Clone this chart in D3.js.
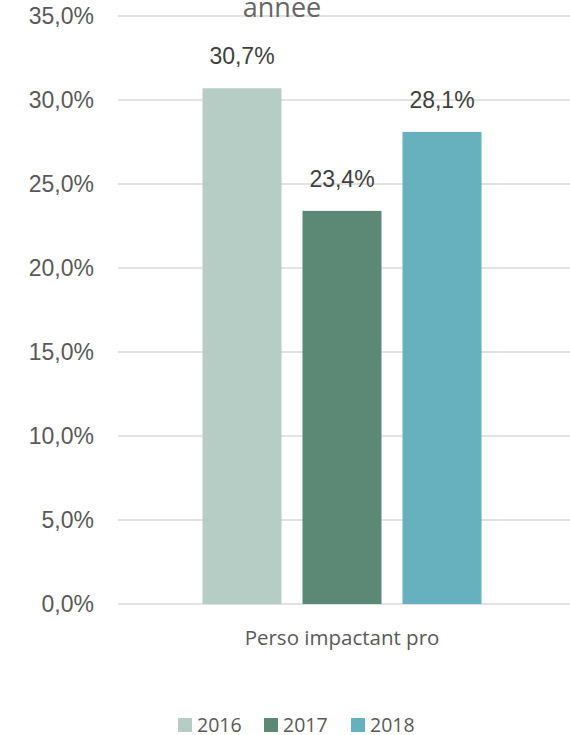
<!DOCTYPE html>
<html>
<head>
<meta charset="utf-8">
<script src="https://cdn.jsdelivr.net/npm/d3@7"></script>
<style>
  body { margin: 0; background: #fff; }
  svg { display: block; }
</style>
</head>
<body>
<svg width="570" height="735"></svg>
<script>
// Data
const categories = ['Perso impactant pro'];
const years = ['2016', '2017', '2018'];
const values = [30.7, 23.4, 28.1];
const colors = ['#b6cdc5', '#5c8976', '#67b0bd'];
const yTicks = [0, 5, 10, 15, 20, 25, 30, 35];

const svg = d3.select('svg');
const fmt = v => d3.format('.1f')(v).replace('.', ',') + '%';

// Plot area (names avoid window.top clash)
const plotLeft = 118, plotRight = 570, plotTop = 16, plotBottom = 604;

const y = d3.scaleLinear().domain([0, 35]).range([plotBottom, plotTop]);

// One category band, then bars per year inside it
const x0 = d3.scaleBand().domain(categories).range([192, 492]);
const x1 = d3.scaleBand().domain(years).range([0, x0.bandwidth()])
    .paddingInner(0.21).paddingOuter(0.105);

// Gridlines
svg.append('g').selectAll('line').data(yTicks).join('line')
    .attr('x1', plotLeft).attr('x2', plotRight)
    .attr('y1', d => y(d)).attr('y2', d => y(d))
    .style('stroke', '#d9d9d9').style('stroke-width', 1.3);

// Tick labels
svg.append('g').selectAll('text').data(yTicks).join('text')
    .attr('x', 94).attr('y', d => y(d) + 8)
    .attr('text-anchor', 'end')
    .style('font-family', 'Liberation Sans, Arial, sans-serif')
    .style('font-size', '23px')
    .style('fill', '#595959')
    .text(d => fmt(d));

// Bars
const group = svg.append('g').attr('transform', `translate(${x0(categories[0])},0)`);
group.selectAll('rect').data(values).join('rect')
    .attr('x', (d, i) => x1(years[i]))
    .attr('width', x1.bandwidth())
    .attr('y', d => y(d))
    .attr('height', d => y(0) - y(d))
    .style('fill', (d, i) => colors[i]);

// Value labels
group.selectAll('text').data(values).join('text')
    .attr('x', (d, i) => x1(years[i]) + x1.bandwidth() / 2)
    .attr('y', d => y(d) - 24)
    .attr('text-anchor', 'middle')
    .style('font-family', 'Liberation Sans, Arial, sans-serif')
    .style('font-size', '23px')
    .style('fill', '#404040')
    .text(d => fmt(d));

// Category label
svg.append('text')
    .attr('x', x0(categories[0]) + x0.bandwidth() / 2).attr('y', 645)
    .attr('text-anchor', 'middle')
    .style('font-family', 'Open Sans, sans-serif')
    .style('font-size', '20.5px')
    .style('fill', '#595959')
    .text(categories[0]);

// Title, cut off at the top
svg.append('text')
    .attr('x', 282).attr('y', 17)
    .attr('text-anchor', 'middle')
    .style('font-family', 'Open Sans, sans-serif')
    .style('font-size', '27px')
    .style('fill', '#666666')
    .text('année');

// Legend
const legendX = [178, 264, 351];
const legend = svg.append('g').selectAll('g').data(years).join('g')
    .attr('transform', (d, i) => `translate(${legendX[i]},718)`);
legend.append('rect')
    .attr('width', 14).attr('height', 14)
    .style('fill', (d, i) => colors[i]);
legend.append('text')
    .attr('x', 19).attr('y', 14)
    .style('font-family', 'Open Sans, sans-serif')
    .style('font-size', '19.5px')
    .style('fill', '#595959')
    .text(d => d);
</script>
</body>
</html>
